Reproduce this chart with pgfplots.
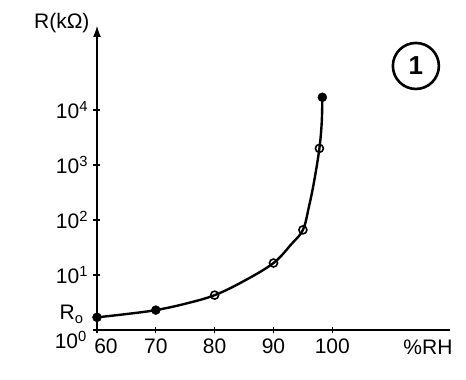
\documentclass[border=0pt]{standalone}
\usepackage{fontspec}
\setmainfont{Liberation Sans}
\usepackage{pgfplots}
\pgfplotsset{compat=1.18}
\usetikzlibrary{arrows.meta}
\begin{document}
\begin{tikzpicture}
\useasboundingbox (-97pt,-50pt) rectangle (369pt,330pt);
\begin{axis}[
  at={(0,0)}, anchor=south west,
  scale only axis, width=353pt, height=305pt,
  xmin=60, xmax=120, ymode=log, ymin=1, ymax=3.5e5,
  axis x line=bottom, axis y line=left,
  x axis line style={-, line width=1.8pt},
  y axis line style={-{Latex[length=12pt,width=8pt]}, line width=2.2pt},
  xtick={60,70,80,90,100},
  xticklabels={\hspace*{18pt}60,70,80,90,100},
  ytick={1,10,100,1000,10000},
  yticklabels={{},10\textsuperscript{1},10\textsuperscript{2},10\textsuperscript{3},10\textsuperscript{4}},
  extra y ticks={1.7},
  extra y tick labels={R\textsubscript{o}},
  extra y tick style={major tick length=0pt, yticklabel style={xshift=-8pt, yshift=3pt}},
  minor ytick={}, yminorticks=false,
  tick align=center, major tick length=7pt,
  tick style={line width=1.2pt, black},
  /pgf/number format/assume math mode=true,
  tick label style={font=\fontsize{21}{24}\selectfont},
  xticklabel style={yshift=-2pt},
  yticklabel style={xshift=-2pt},
  label style={font=\fontsize{21}{24}\selectfont},
  xlabel={\%RH},
  xlabel style={at={(rel axis cs:1,0)}, anchor=north east, xshift=6pt, yshift=-6pt},
  ylabel={R(kΩ)},
  ylabel style={rotate=-90, at={(rel axis cs:0,1)}, anchor=east, xshift=-4pt, yshift=2pt},
  clip=false,
]
\addplot[black, line width=2.4pt, smooth, tension=0.6] coordinates {
  (60,1.7) (65,1.95) (70,2.3) (75,3.0) (80,4.3) (85,7.8) (90,16.5) (93,36) (95,66) (96,170) (96.9,500) (97.8,2000) (98.2,6000) (98.3,17000)
};
\addplot[only marks, mark=*, mark size=4.5pt, black] coordinates {
  (60,1.7) (70,2.3) (98.3,17000)
};
\addplot[only marks, mark=o, mark size=4pt, black, line width=1.6pt, mark options={fill=white}] coordinates {
  (80,4.3) (90,16.5) (95,66) (97.8,2000)
};
\node[anchor=east, font=\fontsize{21}{24}\selectfont, inner sep=0pt] at (axis cs:60,1) [xshift=-10pt, yshift=-10pt] {10\textsuperscript{0}};
\node[circle, draw, line width=2.6pt, minimum size=46pt, inner sep=0pt,
  font=\fontsize{26}{28}\selectfont\bfseries] at (axis cs:114.2,63000) {1};
\end{axis}
\end{tikzpicture}
\end{document}
